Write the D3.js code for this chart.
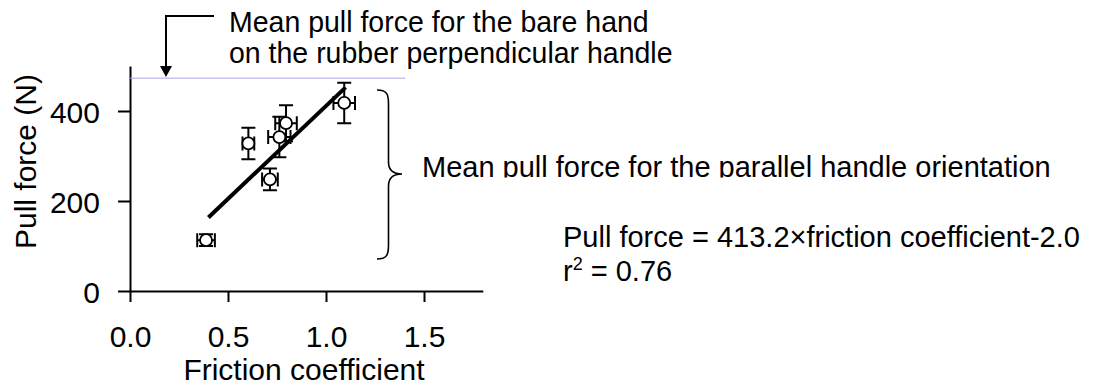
<!DOCTYPE html>
<html>
<head>
<meta charset="utf-8">
<script src="https://cdn.jsdelivr.net/npm/d3@7"></script>
<style>
  html, body { margin: 0; padding: 0; background: #fff; }
  svg { display: block; }
  text { font-family: "Liberation Sans", Arial, Helvetica, sans-serif; fill: #000; }
</style>
</head>
<body>
<svg id="chart" width="1097" height="388"></svg>
<script>
// Friction coefficient vs. mean pull force, one entry per handle condition
const friction   = [1.093, 0.796, 0.762, 0.604, 0.714, 0.388];
const frictionSE = [0.055, 0.055, 0.057, 0.030, 0.040, 0.045];
const pullForce  = [418, 373, 342, 328, 248, 113];
const pullSE     = [45, 40, 45, 35, 24, 13];

// Linear fit: pull force = slope × friction + intercept
const fitSlope = 413.2;
const fitIntercept = -2.0;
const fitRange = [0.40, 1.10];
const rSquared = 0.76;

// Reference level: bare hand on the rubber perpendicular handle
const bareHandForce = 473;

const xTicks = [0, 0.5, 1.0, 1.5];
const yTicks = [0, 200, 400];

const svg = d3.select("#chart");

const x = d3.scaleLinear().domain([0, 1.8]).range([130, 482.8]);
const y = d3.scaleLinear().domain([0, 500]).range([291, 66]);

// Axes
const xAxis = d3.axisBottom(x).tickValues(xTicks).tickFormat(d3.format(".1f"))
  .tickSize(11).tickSizeOuter(0).tickPadding(24);
const yAxis = d3.axisLeft(y).tickValues(yTicks).tickFormat(d3.format("d"))
  .tickSize(12).tickSizeOuter(0).tickPadding(18);

const gx = svg.append("g").attr("transform", `translate(0,${y(0)})`).call(xAxis);
const gy = svg.append("g").attr("transform", `translate(${x(0)},0)`).call(yAxis);

[gx, gy].forEach(g => {
  g.select(".domain").attr("stroke", "#000").attr("stroke-width", 2);
  g.selectAll(".tick line").attr("stroke", "#000").attr("stroke-width", 2);
  g.selectAll(".tick text").attr("font-size", 30)
    .attr("font-family", '"Liberation Sans", Arial, sans-serif').attr("fill", "#000");
});
gy.selectAll(".tick text").attr("dy", "0.38em");

// Axis titles
svg.append("text")
  .attr("x", 304).attr("y", 380)
  .attr("text-anchor", "middle").attr("font-size", 30)
  .text("Friction coefficient");

svg.append("text")
  .attr("transform", "translate(36,161.5) rotate(-90)")
  .attr("text-anchor", "middle").attr("font-size", 30)
  .text("Pull force (N)");

// Bare-hand reference level
svg.append("line")
  .attr("x1", x(0)).attr("x2", 405)
  .attr("y1", y(bareHandForce)).attr("y2", y(bareHandForce))
  .attr("stroke", "#a7a7e6").attr("stroke-width", 1);

// Regression line
svg.append("line")
  .attr("x1", x(fitRange[0])).attr("y1", y(fitSlope * fitRange[0] + fitIntercept))
  .attr("x2", x(fitRange[1])).attr("y2", y(fitSlope * fitRange[1] + fitIntercept))
  .attr("stroke", "#000").attr("stroke-width", 4);

// Error bars and points
const pts = friction.map((f, i) => ({ f, fe: frictionSE[i], p: pullForce[i], pe: pullSE[i] }));
const cap = 7;
const eb = svg.append("g").attr("stroke", "#000").attr("stroke-width", 2).attr("fill", "none");
pts.forEach(d => {
  const cx = x(d.f), cy = y(d.p);
  const y0 = y(d.p - d.pe), y1 = y(d.p + d.pe);
  const x0 = x(d.f - d.fe), x1 = x(d.f + d.fe);
  eb.append("path").attr("d",
    `M${cx},${y0}V${y1}M${cx - cap},${y0}H${cx + cap}M${cx - cap},${y1}H${cx + cap}` +
    `M${x0},${cy}H${x1}M${x0},${cy - cap}V${cy + cap}M${x1},${cy - cap}V${cy + cap}`);
});
svg.append("g").selectAll("circle").data(pts).join("circle")
  .attr("cx", d => x(d.f)).attr("cy", d => y(d.p)).attr("r", 6)
  .attr("fill", "#fff").attr("stroke", "#000").attr("stroke-width", 1.8);

// Curly brace spanning the parallel-orientation points
const bx0 = 377, bx1 = 388.5, bTip = 402, bTop = 90, bBot = 259, bMid = 174;
svg.append("path")
  .attr("d",
    `M${bx0},${bTop} C${bx1 - 1},${bTop} ${bx1},${bTop + 5} ${bx1},${bTop + 14}` +
    ` V${bMid - 12} C${bx1},${bMid - 4} ${bx1 + 5},${bMid} ${bTip},${bMid}` +
    ` C${bx1 + 5},${bMid} ${bx1},${bMid + 4} ${bx1},${bMid + 12}` +
    ` V${bBot - 14} C${bx1},${bBot - 5} ${bx1 - 1},${bBot} ${bx0},${bBot}`)
  .attr("fill", "none").attr("stroke", "#000").attr("stroke-width", 1.6);

// Arrow pointing to the reference level
svg.append("path")
  .attr("d", "M214,16H166V68")
  .attr("fill", "none").attr("stroke", "#000").attr("stroke-width", 2);
svg.append("path")
  .attr("d", "M160,66L172,66L166,77Z").attr("fill", "#000");

// Annotations
svg.append("text").attr("transform", "translate(229,31.7) scale(0.95,1)").attr("font-size", 30)
  .text("Mean pull force for the bare hand");
svg.append("text").attr("transform", "translate(229,63.3) scale(0.95,1)").attr("font-size", 30)
  .text("on the rubber perpendicular handle");

svg.append("clipPath").attr("id", "noteClip")
  .append("rect").attr("x", 410).attr("y", 140).attr("width", 680).attr("height", 37.5);
svg.append("text").attr("x", 422).attr("y", 176.7).attr("font-size", 29)
  .attr("clip-path", "url(#noteClip)")
  .text("Mean pull force for the parallel handle orientation");

svg.append("text").attr("x", 563).attr("y", 246.7).attr("font-size", 29)
  .text(`Pull force = ${fitSlope.toFixed(1)}×friction coefficient${fitIntercept.toFixed(1)}`);
const r2 = svg.append("text").attr("x", 563).attr("y", 281).attr("font-size", 29);
r2.append("tspan").text("r");
r2.append("tspan").attr("font-size", 18).attr("dy", -11).text("2");
r2.append("tspan").attr("dy", 11).text(` = ${rSquared.toFixed(2)}`);
</script>
</body>
</html>
